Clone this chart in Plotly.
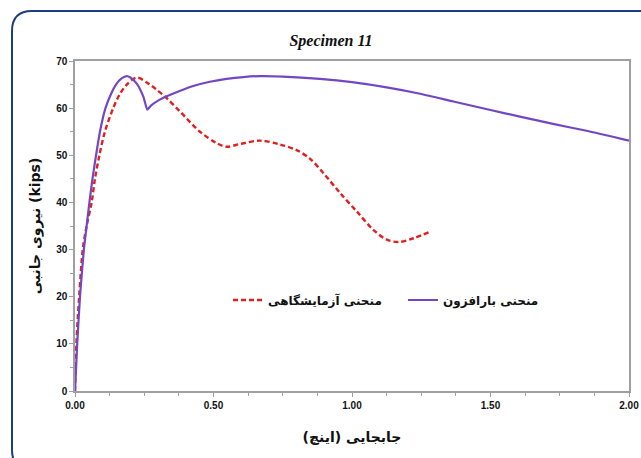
import plotly.graph_objects as go

# Numerical (pushover) curve
num_x = [0.0, 0.004, 0.008, 0.018, 0.032, 0.042, 0.052, 0.063, 0.076, 0.090, 0.110,
         0.130, 0.148, 0.168, 0.187, 0.200, 0.223, 0.247, 0.261, 0.275, 0.300,
         0.331, 0.380, 0.427, 0.487, 0.547, 0.608, 0.668, 0.750, 0.884, 1.000, 1.125,
         1.250, 1.366, 1.500, 1.606, 1.730, 1.847, 2.000]
num_y = [0.0, 5.0, 10.0, 20.0, 30.0, 35.0, 40.0, 45.0, 50.0, 55.0, 60.0,
         63.0, 65.0, 66.3, 66.8, 66.5, 65.2, 62.4, 59.7, 60.6, 61.6,
         62.5, 63.7, 64.7, 65.6, 66.2, 66.6, 66.8, 66.7, 66.2, 65.5, 64.4,
         63.0, 61.4, 59.6, 58.2, 56.6, 55.2, 53.1]

# Experimental curve
exp_x = [0.0, 0.005, 0.015, 0.028, 0.042, 0.060, 0.072, 0.088, 0.108, 0.138, 0.162,
         0.187, 0.223, 0.265, 0.295, 0.331, 0.379, 0.451, 0.511, 0.547, 0.596, 0.668,
         0.740, 0.800, 0.848, 0.897, 0.957, 1.017, 1.077, 1.126, 1.168, 1.222, 1.282]
exp_y = [0.0, 10.0, 20.0, 30.0, 35.0, 40.0, 45.0, 50.0, 55.0, 60.0, 63.0,
         65.0, 66.5, 65.2, 63.9, 62.1, 59.3, 55.0, 52.6, 51.8, 52.4, 53.1,
         52.3, 51.1, 49.3, 46.2, 42.0, 38.1, 34.2, 32.1, 31.6, 32.4, 33.8]

x_ticks = [0.0, 0.5, 1.0, 1.5, 2.0]
x_tick_labels = ["0.00", "0.50", "1.00", "1.50", "2.00"]
y_ticks = [0, 10, 20, 30, 40, 50, 60, 70]

title_text = "Specimen 11"
x_title = "جابجایی (اینچ)\u200f"
y_title = "نیروی جانبی (kips)"
exp_name = "منحنی آزمایشگاهی"
num_name = "منحنی بارافزون"

fig = go.Figure()
fig.add_trace(go.Scatter(
    x=exp_x, y=exp_y, mode="lines", name=exp_name,
    line=dict(color="#E0201E", width=2.4, dash="5px,3px", shape="spline", smoothing=0.9),
))
fig.add_trace(go.Scatter(
    x=num_x, y=num_y, mode="lines", name=num_name,
    line=dict(color="#7347C2", width=2.2, shape="spline", smoothing=0.5),
))

# pixel -> paper helpers for the rounded frame
L, R, T, B = 75, 12, 61, 67
W, H = 641, 458
pw, ph = W - L - R, H - T - B


def px(v):
    return (v - L) / pw


def py(v):
    return (H - B - v) / ph


path = (f"M {px(12)},{py(31)} L {px(12)},{py(450)} Q {px(12)},{py(470)} {px(32)},{py(470)} "
        f"L {px(680)},{py(470)} L {px(680)},{py(11)} L {px(32)},{py(11)} "
        f"Q {px(12)},{py(11)} {px(12)},{py(31)} Z")

fig.add_shape(type="path", path=path, xref="paper", yref="paper",
              line=dict(color="#1F3C7C", width=2), fillcolor="rgba(0,0,0,0)", layer="below")

tickfont = dict(family="Liberation Sans Narrow, Arial Narrow, Liberation Sans, Arial",
                size=10, color="#111111", weight="bold")

fig.update_layout(
    width=W, height=H,
    margin=dict(l=L, r=R, t=T, b=B, autoexpand=False),
    paper_bgcolor="white", plot_bgcolor="white",
    title=dict(text=title_text, x=px(331), xref="paper", xanchor="center",
               y=1 - 40 / H, yref="container", yanchor="middle",
               font=dict(family="Liberation Serif, Times New Roman, serif", size=16,
                         color="#111111", style="italic", weight="bold")),
    showlegend=True,
    legend=dict(orientation="h", x=px(228), y=py(300), xanchor="left", yanchor="middle",
                bgcolor="rgba(0,0,0,0)", itemwidth=30, traceorder="normal",
                entrywidth=130, entrywidthmode="pixels",
                font=dict(family="DejaVu Sans, Noto Sans", size=12, color="#111111", weight="bold")),
    xaxis=dict(range=[0, 2.0], tickvals=x_ticks, ticktext=x_tick_labels, automargin=False,
               showgrid=False, zeroline=False, showline=True, linecolor="#A0A0A0", linewidth=1.5,
               mirror=True, ticks="outside", ticklen=4, tickcolor="#A0A0A0",
               minor=dict(dtick=0.125, ticks="outside", ticklen=3, tickcolor="#A0A0A0"),
               tickfont=tickfont,
               title=dict(text=x_title, standoff=22,
                          font=dict(family="DejaVu Sans, Noto Sans", size=14, color="#111111", weight="bold"))),
    yaxis=dict(range=[0, 70], tickvals=y_ticks, automargin=False,
               showgrid=False, zeroline=False, showline=True, linecolor="#A0A0A0", linewidth=1.5,
               mirror=True, ticks="outside", ticklen=4, tickcolor="#A0A0A0",
               minor=dict(dtick=5, ticks="outside", ticklen=3, tickcolor="#A0A0A0"),
               tickfont=tickfont,
               title=dict(text=y_title, standoff=12,
                          font=dict(family="DejaVu Sans, Noto Sans", size=14, color="#111111", weight="bold"))),
)

fig.write_html("out.html", config={"displayModeBar": False},
               post_script="document.body.style.margin='0';document.body.style.overflow='hidden';")
